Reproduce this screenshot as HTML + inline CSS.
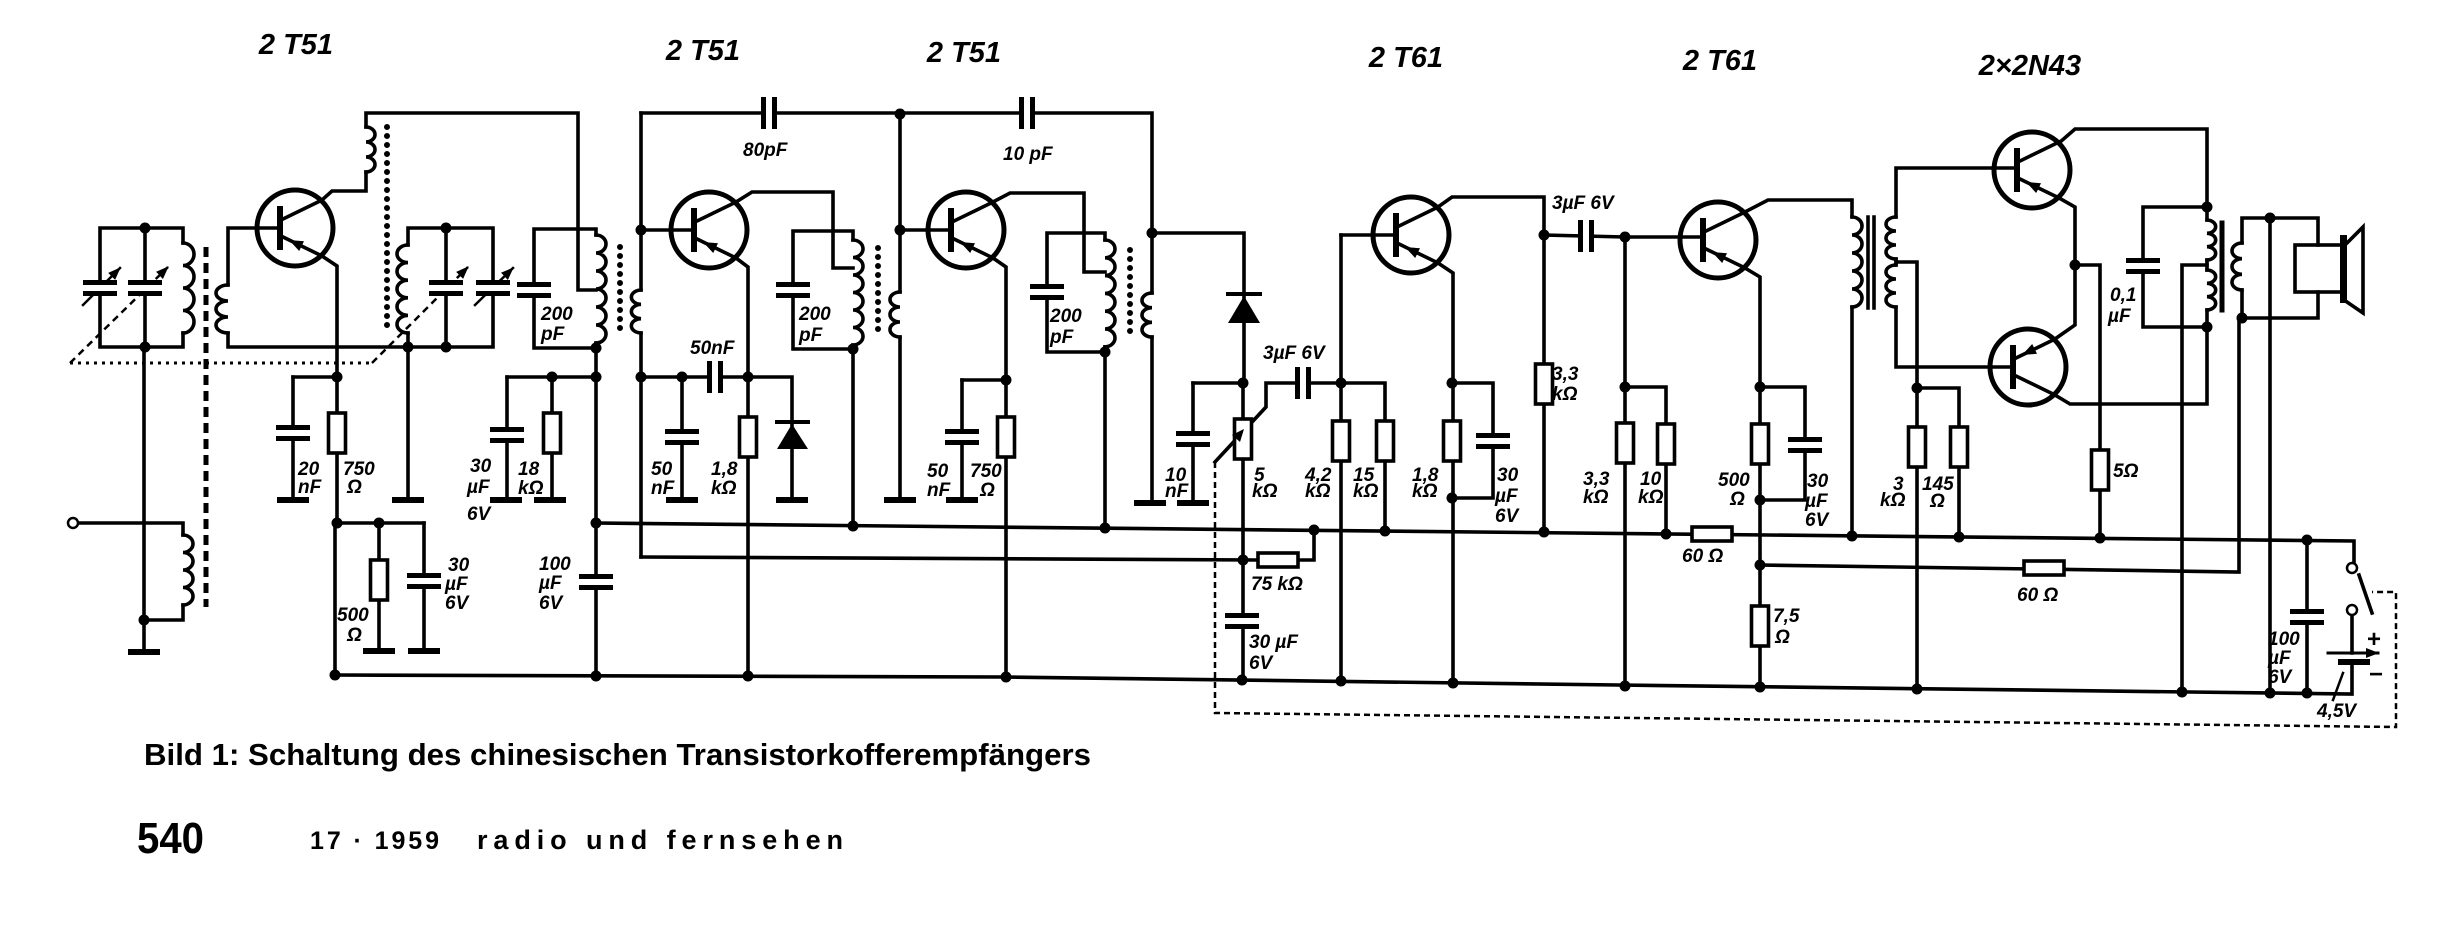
<!DOCTYPE html>
<html><head><meta charset="utf-8"><style>
html,body{margin:0;padding:0;background:#fff;}
svg{display:block}
</style></head><body>
<svg xmlns="http://www.w3.org/2000/svg" width="2460" height="940" viewBox="0 0 2460 940">
<defs>
<marker id="ah" markerWidth="14" markerHeight="12" refX="12" refY="6" orient="auto" markerUnits="userSpaceOnUse"><path d="M0,1 L13,6 L0,11 Z" fill="#000" stroke="none"/></marker>
<g id="tr"><circle r="38" fill="none" stroke-width="5"/><line x1="-15" y1="-19" x2="-15" y2="19" stroke-width="6"/><line x1="-14" y1="-8" x2="27" y2="-28"/><line x1="-14" y1="8" x2="27" y2="28"/><polygon points="-6,12 4.2,23 9,13.2" fill="#000" stroke="none"/></g>
<g id="cv"><rect x="-17" y="-3" width="34" height="6" fill="#fff" stroke="none"/><rect x="-17" y="-8" width="34" height="5" fill="#000" stroke="none"/><rect x="-17" y="3" width="34" height="5" fill="#000" stroke="none"/></g>
<g id="ch"><rect x="-3" y="-16" width="6" height="32" fill="#fff" stroke="none"/><rect x="-8" y="-16" width="5" height="32" fill="#000" stroke="none"/><rect x="3" y="-16" width="5" height="32" fill="#000" stroke="none"/></g>
<rect id="rv" x="-8.5" y="-20" width="17" height="40" fill="#fff"/>
<rect id="rh" x="-20" y="-7" width="40" height="14" fill="#fff"/>
<rect id="g" x="-16" y="-3" width="32" height="6" fill="#000" stroke="none"/>
<circle id="n" r="5.5" fill="#000" stroke="none"/>
</defs>

<g stroke="#000" stroke-width="3.6" fill="none" stroke-linecap="square" stroke-linejoin="miter">
<!-- rails -->
<path d="M596,523 L2354,541 V563"/>
<path d="M335,675 L1003,677 L1618,685 L2352,694 V664"/>
<path d="M641,557 L1257,560"/>
<path d="M1299,560 H1314 V530"/>
<path d="M1760,565 L2239,572 V318"/>

<!-- STAGE 1 -->
<path d="M183,243 V228 H100 V347 H183 V333"/>
<path d="M183,243 a11,11.25 0 0 1 0,22.5 a11,11.25 0 0 1 0,22.5 a11,11.25 0 0 1 0,22.5 a11,11.25 0 0 1 0,22.5"/>
<path d="M145,228 V347"/>
<path d="M144,347 V651"/>
<path d="M78,523 H183 V535"/>
<path d="M183,535 a10,8.75 0 0 1 0,17.5 a10,8.75 0 0 1 0,17.5 a10,8.75 0 0 1 0,17.5 a10,8.75 0 0 1 0,17.5"/>
<path d="M183,605 V620 H144"/>
<path d="M228,285 V228 H280"/>
<path d="M228,285 a12,8 0 0 0 0,16 a12,8 0 0 0 0,16 a12,8 0 0 0 0,16"/>
<path d="M228,333 V347 H408"/>
<path d="M322,200 L332,191 H366 V172"/>
<path d="M366,127 a9,7.5 0 0 1 0,15 a9,7.5 0 0 1 0,15 a9,7.5 0 0 1 0,15"/>
<path d="M366,127 V113 H578 V290 H596"/>
<path d="M408,245 V228 H493 V347 H408 V333"/>
<path d="M408,245 a11,8.8 0 0 0 0,17.6 a11,8.8 0 0 0 0,17.6 a11,8.8 0 0 0 0,17.6 a11,8.8 0 0 0 0,17.6 a11,8.8 0 0 0 0,17.6"/>
<path d="M446,228 V347"/>
<path d="M408,347 V499"/>
<path d="M596,235 V229 H534 V348 H596 V343"/>
<path d="M596,235 a10,9 0 0 1 0,18 a10,9 0 0 1 0,18 a10,9 0 0 1 0,18 a10,9 0 0 1 0,18 a10,9 0 0 1 0,18 a10,9 0 0 1 0,18"/>
<path d="M596,348 V676"/>
<path d="M507,377 H596"/>
<path d="M507,377 V499"/>
<path d="M552,377 V499"/>
<path d="M322,256 L337,266 V523"/>
<path d="M293,377 H337"/>
<path d="M293,377 V499"/>
<path d="M335,523 H424"/>
<path d="M379,523 V650"/>
<path d="M424,523 V650"/>
<path d="M335,523 V675"/>

<!-- STAGE 2 -->
<path d="M641,113 V290"/>
<path d="M641,290 a10,7.17 0 0 0 0,14.33 a10,7.17 0 0 0 0,14.33 a10,7.17 0 0 0 0,14.33"/>
<path d="M641,333 V557"/>
<path d="M641,230 H694"/>
<path d="M736,202 L752,192 H833 V268 H853"/>
<path d="M853,240 V231 H793 V349 H853 V345"/>
<path d="M853,240 a10,8.75 0 0 1 0,17.5 a10,8.75 0 0 1 0,17.5 a10,8.75 0 0 1 0,17.5 a10,8.75 0 0 1 0,17.5 a10,8.75 0 0 1 0,17.5 a10,8.75 0 0 1 0,17.5"/>
<path d="M853,349 V526"/>
<path d="M736,258 L748,267 V677"/>
<path d="M641,377 H792 V499"/>
<path d="M682,377 V499"/>
<path d="M641,113 H1152 V293"/>

<!-- STAGE 3 -->
<path d="M900,114 V292"/>
<path d="M900,292 a10,7.5 0 0 0 0,15 a10,7.5 0 0 0 0,15 a10,7.5 0 0 0 0,15"/>
<path d="M900,337 V499"/>
<path d="M900,230 H951"/>
<path d="M993,202 L1010,193 H1084 V272 H1105"/>
<path d="M1105,240 V233 H1047 V352 H1105 V347"/>
<path d="M1105,240 a10,8.9 0 0 1 0,17.8 a10,8.9 0 0 1 0,17.8 a10,8.9 0 0 1 0,17.8 a10,8.9 0 0 1 0,17.8 a10,8.9 0 0 1 0,17.8 a10,8.9 0 0 1 0,17.8"/>
<path d="M1105,352 V528"/>
<path d="M993,258 L1006,267 V677"/>
<path d="M962,380 H1006"/>
<path d="M962,380 V499"/>
<path d="M1152,293 a10,7.33 0 0 0 0,14.67 a10,7.33 0 0 0 0,14.67 a10,7.33 0 0 0 0,14.67"/>
<path d="M1152,337 V502"/>
<path d="M1152,233 H1244 V383"/>
<path d="M1243,383 V680"/>
<path d="M1193,383 H1243"/>
<path d="M1193,383 V502"/>
<path d="M1215,462 L1266,407 V383 H1385 V531"/>
<path d="M1341,235 V683"/>

<!-- STAGE 4 -->
<path d="M1341,235 H1396"/>
<path d="M1438,207 L1452,197 H1544 V532"/>
<path d="M1544,235 L1625,237 H1703"/>
<path d="M1625,237 V686"/>
<path d="M1438,263 L1453,273 V683"/>
<path d="M1452,383 H1493 V498 H1452"/>
<path d="M1625,387 H1666 V534"/>

<!-- STAGE 5 -->
<path d="M1745,212 L1768,200 H1852 V217"/>
<path d="M1852,217 a10,9 0 0 1 0,18 a10,9 0 0 1 0,18 a10,9 0 0 1 0,18 a10,9 0 0 1 0,18 a10,9 0 0 1 0,18"/>
<path d="M1852,307 V536"/>
<path d="M1868,217 V308 M1874,217 V308"/>
<path d="M2017,168 H1896 V217"/>
<path d="M1896,217 a10,7 0 0 0 0,14 a10,7 0 0 0 0,14 a10,7 0 0 0 0,14"/>
<path d="M1896,259 V265"/>
<path d="M1896,265 a10,7 0 0 0 0,14 a10,7 0 0 0 0,14 a10,7 0 0 0 0,14"/>
<path d="M1896,307 V367 H2013"/>
<path d="M1896,262 H1917 V689"/>
<path d="M1917,388 H1959 V537"/>
<path d="M1745,268 L1760,277 V687"/>
<path d="M1760,387 H1805 V500 H1760"/>

<!-- OUTPUT -->
<path d="M2059,143 L2075,129 H2207 V220"/>
<path d="M2207,220 a9,6.67 0 0 1 0,13.33 a9,6.67 0 0 1 0,13.33 a9,6.67 0 0 1 0,13.33"/>
<path d="M2207,260 V270"/>
<path d="M2207,270 a9,6.67 0 0 1 0,13.33 a9,6.67 0 0 1 0,13.33 a9,6.67 0 0 1 0,13.33"/>
<path d="M2207,310 V327"/>
<path d="M2059,198 L2075,207 V325 L2055,339"/>
<path d="M2075,265 H2100 V538"/>
<path d="M2055,395 L2070,404 H2207 V327"/>
<path d="M2207,207 H2143 V327 H2207"/>
<path d="M2207,265 H2182 V692"/>
<path d="M2222,223 V310" stroke-width="5"/>
<path d="M2270,693 V218 H2242 V243"/>
<path d="M2242,243 a10,7.83 0 0 0 0,15.67 a10,7.83 0 0 0 0,15.67 a10,7.83 0 0 0 0,15.67"/>
<path d="M2242,290 V318"/>
<path d="M2270,218 H2318 V245"/>
<rect x="2295" y="245" width="47" height="47"/>
<path d="M2318,292 V318 H2242"/>
<rect x="2340" y="235" width="7" height="68" fill="#000" stroke="none"/>
<path d="M2347,243 L2363,227 V313 L2347,302"/>

<!-- battery / switch -->
<path d="M2359,575 L2372,613"/>
<path d="M2352,615 V653"/>
<path d="M2328,653 H2378" stroke-width="3" marker-end="url(#ah)"/>
<rect x="2338" y="659" width="32" height="6" fill="#000" stroke="none"/>
<path d="M2307,540 V693"/>
<path d="M2343,673 L2333,700" stroke-width="2.5"/>
<circle cx="2352" cy="568" r="5" fill="#fff" stroke-width="2.5"/>
<circle cx="2352" cy="610" r="5" fill="#fff" stroke-width="2.5"/>

<!-- dashed / dotted -->
<path d="M206,247 V607" stroke-width="5" stroke-dasharray="10 6" stroke-linecap="butt"/>
<path d="M387,127 V333" stroke-width="6" stroke-dasharray="0 9" stroke-linecap="round"/>
<path d="M620,247 V333" stroke-width="6" stroke-dasharray="0 9" stroke-linecap="round"/>
<path d="M878,248 V335" stroke-width="6" stroke-dasharray="0 9" stroke-linecap="round"/>
<path d="M1130,250 V340" stroke-width="6" stroke-dasharray="0 9" stroke-linecap="round"/>
<path d="M70,363 H372" stroke-width="3" stroke-dasharray="3 5" stroke-linecap="butt"/>
<path d="M70,363 L168,267" stroke-width="2.5" stroke-dasharray="7 5" stroke-linecap="butt" marker-end="url(#ah)"/>
<path d="M372,363 L468,267" stroke-width="2.5" stroke-dasharray="7 5" stroke-linecap="butt" marker-end="url(#ah)"/>
<path d="M83,305 L120,268" stroke-width="2.5" marker-end="url(#ah)"/>
<path d="M475,305 L513,268" stroke-width="2.5" marker-end="url(#ah)"/>
<path d="M1215,462 V713 L2396,727 V592 H2372" stroke-width="2.5" stroke-dasharray="6 4" stroke-linecap="butt"/>

<!-- transistors -->
<use href="#tr" x="295" y="228"/>
<use href="#tr" x="709" y="230"/>
<use href="#tr" x="966" y="230"/>
<use href="#tr" x="1411" y="235"/>
<use href="#tr" x="1718" y="240"/>
<use href="#tr" x="2032" y="170"/>
<use href="#tr" transform="translate(2028,367) scale(1,-1)"/>

<!-- capacitors vertical-lead -->
<use href="#cv" x="100" y="288"/><use href="#cv" x="145" y="288"/>
<use href="#cv" x="446" y="288"/><use href="#cv" x="493" y="288"/>
<use href="#cv" x="534" y="290"/><use href="#cv" x="293" y="433"/>
<use href="#cv" x="507" y="435"/><use href="#cv" x="596" y="582"/>
<use href="#cv" x="424" y="581"/><use href="#cv" x="682" y="437"/>
<use href="#cv" x="793" y="290"/><use href="#cv" x="1047" y="292"/>
<use href="#cv" x="962" y="437"/><use href="#cv" x="1193" y="439"/>
<use href="#cv" x="1242" y="621"/><use href="#cv" x="1493" y="441"/>
<use href="#cv" x="1805" y="445"/><use href="#cv" x="2143" y="266"/>
<use href="#cv" x="2307" y="617"/>
<!-- capacitors horizontal-lead -->
<use href="#ch" x="715" y="377"/><use href="#ch" x="769" y="113"/>
<use href="#ch" x="1027" y="113"/><use href="#ch" x="1303" y="383"/>
<use href="#ch" x="1586" y="236"/>

<!-- resistors -->
<use href="#rv" x="337" y="433"/><use href="#rv" x="552" y="433"/>
<use href="#rv" x="379" y="580"/><use href="#rv" x="748" y="437"/>
<use href="#rv" x="1006" y="437"/><use href="#rv" x="1243" y="439"/>
<use href="#rv" x="1341" y="441"/><use href="#rv" x="1385" y="441"/>
<use href="#rv" x="1452" y="441"/><use href="#rv" x="1544" y="384"/>
<use href="#rv" x="1625" y="443"/><use href="#rv" x="1666" y="444"/>
<use href="#rv" x="1760" y="444"/><use href="#rv" x="1760" y="626"/>
<use href="#rv" x="1917" y="447"/><use href="#rv" x="1959" y="447"/>
<use href="#rv" x="2100" y="470"/>
<use href="#rh" x="1278" y="560"/><use href="#rh" x="1712" y="534"/>
<use href="#rh" x="2044" y="568"/>

<!-- pot arrow -->
<polygon points="1244,429 1240,442 1232,435" fill="#000" stroke="none"/>

<!-- diodes -->
<polygon points="777,449 808,449 792,424" fill="#000" stroke="none"/>
<path d="M777,422 H808" stroke-width="4"/>
<polygon points="1228,323 1260,323 1244,296" fill="#000" stroke="none"/>
<path d="M1228,294 H1260" stroke-width="4"/>

<!-- antenna terminal -->
<circle cx="73" cy="523" r="5" fill="#fff" stroke-width="2.5"/>
</g>

<!-- grounds -->
<g>
<use href="#g" x="144" y="652"/><use href="#g" x="293" y="500"/>
<use href="#g" x="408" y="500"/><use href="#g" x="506" y="500"/>
<use href="#g" x="550" y="500"/><use href="#g" x="379" y="651"/>
<use href="#g" x="424" y="651"/><use href="#g" x="682" y="500"/>
<use href="#g" x="792" y="500"/><use href="#g" x="900" y="500"/>
<use href="#g" x="962" y="500"/><use href="#g" x="1150" y="503"/>
<use href="#g" x="1193" y="503"/>
</g>

<!-- nodes -->
<g>
<use href="#n" x="145" y="228"/><use href="#n" x="145" y="347"/>
<use href="#n" x="446" y="228"/><use href="#n" x="446" y="347"/>
<use href="#n" x="408" y="347"/><use href="#n" x="596" y="348"/>
<use href="#n" x="596" y="377"/><use href="#n" x="552" y="377"/>
<use href="#n" x="337" y="377"/><use href="#n" x="337" y="523"/>
<use href="#n" x="379" y="523"/><use href="#n" x="596" y="523"/>
<use href="#n" x="596" y="676"/><use href="#n" x="144" y="620"/>
<use href="#n" x="335" y="675"/>
<use href="#n" x="641" y="230"/><use href="#n" x="641" y="377"/>
<use href="#n" x="682" y="377"/><use href="#n" x="748" y="377"/>
<use href="#n" x="853" y="349"/><use href="#n" x="853" y="526"/>
<use href="#n" x="748" y="676"/><use href="#n" x="900" y="114"/>
<use href="#n" x="900" y="230"/><use href="#n" x="1105" y="352"/>
<use href="#n" x="1105" y="528"/><use href="#n" x="1006" y="380"/>
<use href="#n" x="1006" y="677"/><use href="#n" x="1152" y="233"/>
<use href="#n" x="1243" y="383"/><use href="#n" x="1243" y="560"/>
<use href="#n" x="1242" y="680"/><use href="#n" x="1314" y="530"/>
<use href="#n" x="1341" y="383"/><use href="#n" x="1385" y="531"/>
<use href="#n" x="1341" y="681"/><use href="#n" x="1452" y="383"/>
<use href="#n" x="1452" y="498"/><use href="#n" x="1453" y="683"/>
<use href="#n" x="1544" y="235"/><use href="#n" x="1544" y="532"/>
<use href="#n" x="1625" y="237"/><use href="#n" x="1625" y="387"/>
<use href="#n" x="1625" y="686"/><use href="#n" x="1666" y="534"/>
<use href="#n" x="1760" y="387"/><use href="#n" x="1760" y="500"/>
<use href="#n" x="1760" y="565"/><use href="#n" x="1760" y="687"/>
<use href="#n" x="1852" y="536"/><use href="#n" x="1917" y="388"/>
<use href="#n" x="1959" y="537"/><use href="#n" x="1917" y="689"/>
<use href="#n" x="2075" y="265"/><use href="#n" x="2100" y="538"/>
<use href="#n" x="2207" y="207"/><use href="#n" x="2207" y="327"/>
<use href="#n" x="2182" y="692"/><use href="#n" x="2270" y="218"/>
<use href="#n" x="2242" y="318"/><use href="#n" x="2270" y="693"/>
<use href="#n" x="2307" y="540"/><use href="#n" x="2307" y="693"/>
</g>

<!-- titles -->
<g font-family="Liberation Sans, sans-serif" font-style="italic" font-weight="bold" font-size="29" fill="#000" text-anchor="middle">
<text x="296" y="54">2 T51</text>
<text x="703" y="60">2 T51</text>
<text x="964" y="62">2 T51</text>
<text x="1406" y="67">2 T61</text>
<text x="1720" y="70">2 T61</text>
<text x="2030" y="75">2×2N43</text>
</g>

<!-- labels -->
<g font-family="Liberation Sans, sans-serif" font-style="italic" font-weight="bold" font-size="19" fill="#000">
<text x="298" y="475">20</text><text x="298" y="493">nF</text>
<text x="343" y="475">750</text><text x="347" y="493">Ω</text>
<text x="470" y="472">30</text><text x="467" y="493">µF</text><text x="467" y="520">6V</text>
<text x="518" y="475">18</text><text x="518" y="494">kΩ</text>
<text x="337" y="621">500</text><text x="347" y="641">Ω</text>
<text x="448" y="571">30</text><text x="445" y="590">µF</text><text x="445" y="609">6V</text>
<text x="539" y="570">100</text><text x="539" y="589">µF</text><text x="539" y="609">6V</text>
<text x="541" y="320">200</text><text x="541" y="340">pF</text>
<text x="743" y="156">80pF</text>
<text x="690" y="354">50nF</text>
<text x="651" y="475">50</text><text x="651" y="494">nF</text>
<text x="711" y="475">1,8</text><text x="711" y="494">kΩ</text>
<text x="799" y="320">200</text><text x="799" y="341">pF</text>
<text x="1003" y="160">10 pF</text>
<text x="1050" y="322">200</text><text x="1050" y="343">pF</text>
<text x="927" y="477">50</text><text x="927" y="496">nF</text>
<text x="970" y="477">750</text><text x="980" y="496">Ω</text>
<text x="1165" y="481">10</text><text x="1165" y="497">nF</text>
<text x="1254" y="481">5</text><text x="1252" y="497">kΩ</text>
<text x="1305" y="481">4,2</text><text x="1305" y="497">kΩ</text>
<text x="1353" y="481">15</text><text x="1353" y="497">kΩ</text>
<text x="1263" y="359">3µF 6V</text>
<text x="1251" y="590">75 kΩ</text>
<text x="1249" y="648">30 µF</text><text x="1249" y="669">6V</text>
<text x="1412" y="481">1,8</text><text x="1412" y="497">kΩ</text>
<text x="1497" y="481">30</text><text x="1495" y="502">µF</text><text x="1495" y="522">6V</text>
<text x="1552" y="209">3µF 6V</text>
<text x="1552" y="380">3,3</text><text x="1552" y="400">kΩ</text>
<text x="1583" y="485">3,3</text><text x="1583" y="503">kΩ</text>
<text x="1640" y="485">10</text><text x="1638" y="503">kΩ</text>
<text x="1718" y="486">500</text><text x="1730" y="505">Ω</text>
<text x="1807" y="487">30</text><text x="1805" y="507">µF</text><text x="1805" y="526">6V</text>
<text x="1682" y="562">60 Ω</text>
<text x="1773" y="622">7,5</text><text x="1775" y="643">Ω</text>
<text x="1893" y="490">3</text><text x="1880" y="506">kΩ</text>
<text x="1922" y="490">145</text><text x="1930" y="507">Ω</text>
<text x="2113" y="477">5Ω</text>
<text x="2017" y="601">60 Ω</text>
<text x="2110" y="301">0,1</text><text x="2108" y="322">µF</text>
<text x="2268" y="645">100</text><text x="2268" y="664">µF</text><text x="2268" y="683">6V</text>
<text x="2317" y="717">4,5V</text>
<text x="2367" y="647" font-size="24" font-style="normal">+</text>
<text x="2369" y="682" font-size="24" font-style="normal">−</text>
</g>

<!-- caption -->
<g font-family="Liberation Sans, sans-serif" font-weight="bold" fill="#000">
<text x="144" y="765" font-size="31" textLength="947" lengthAdjust="spacingAndGlyphs">Bild 1: Schaltung des chinesischen Transistorkofferempfängers</text>
<text x="137" y="853" font-size="44" textLength="67" lengthAdjust="spacingAndGlyphs">540</text>
<text x="310" y="849" font-size="25" textLength="129">17 · 1959</text>
<text x="477" y="849" font-size="27" textLength="366">radio und fernsehen</text>
</g>
</svg>
</body></html>
